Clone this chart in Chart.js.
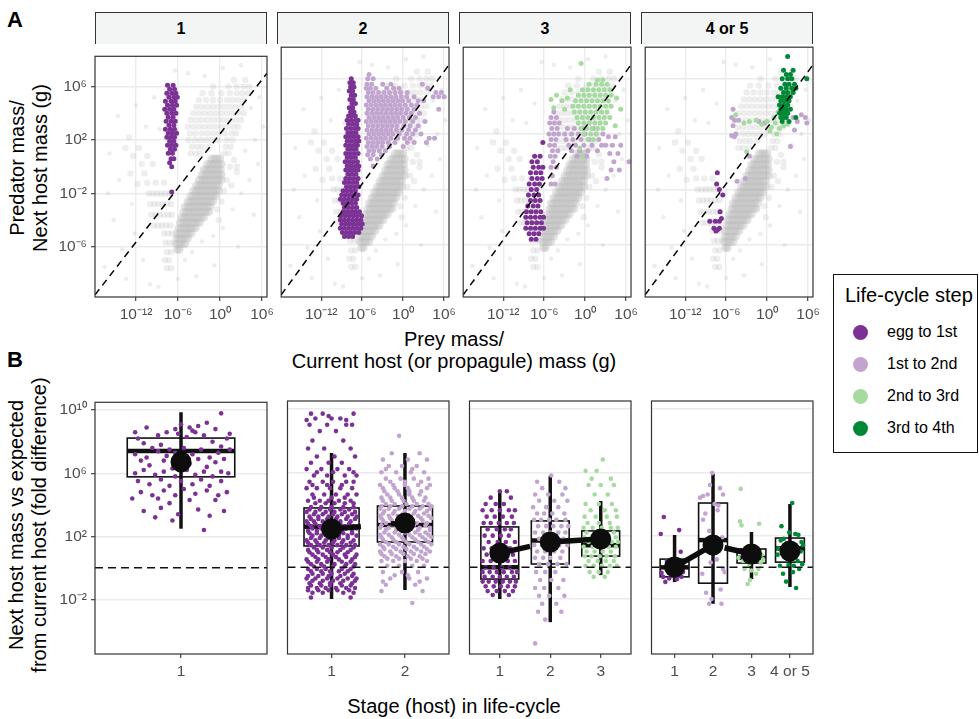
<!DOCTYPE html>
<html>
<head>
<meta charset="utf-8">
<script src="https://cdn.jsdelivr.net/npm/chart.js"></script>
<style>
  body { margin: 0; width: 979px; height: 719px; position: relative; background: #fff; overflow: hidden;
         font-family: 'Liberation Sans', Arial, sans-serif; color: #000; }
  .abs { position: absolute; }
  .strip { position: absolute; box-sizing: border-box; border: 1.2px solid #333; border-bottom: none;
           background: #f3f4f4; font-weight: bold; font-size: 16px; display: flex; align-items: center; justify-content: center; }
  .rot { position: absolute; text-align: center; transform: rotate(-90deg); transform-origin: 50% 50%; font-size: 20px; line-height: 23px; white-space: nowrap; }
  .xt { position: absolute; text-align: center; font-size: 20px; line-height: 22px; white-space: nowrap; }
  .tag { position: absolute; font-weight: bold; font-size: 22px; line-height: 22px; }
  #legend { position: absolute; left: 833px; top: 274px; width: 145px; height: 179px; box-sizing: border-box; border: 1.3px solid #111; }
  #legend .ttl { position: absolute; left: 11px; top: 9px; font-size: 20px; line-height: 23px; white-space: nowrap; }
  #legend .dot { position: absolute; width: 15px; height: 15px; border-radius: 50%; }
  #legend .lab { position: absolute; left: 53px; font-size: 16px; line-height: 18px; white-space: nowrap; }
</style>
</head>
<body>

<div class="tag" style="left:7px; top:9px;">A</div>
<div class="tag" style="left:7px; top:349px;">B</div>

<div class="rot" style="left:-101px; top:145px; width:260px; height:46px;">Predator mass/<br>Next host mass (g)</div>
<div class="rot" style="left:-142px; top:502px; width:340px; height:46px;">Next host mass vs expected<br>from current host (fold difference)</div>

<div class="xt" style="left:254px; top:328px; width:400px;">Prey mass/<br>Current host (or propagule) mass (g)</div>
<div class="xt" style="left:254px; top:695px; width:400px;">Stage (host) in life-cycle</div>

<div id="legend"><div class="ttl">Life-cycle step</div></div>

<script>
// ---------- data ----------
const facetLabels = ['1', '2', '3', '4 or 5'];
const stepNames = ['egg to 1st', '1st to 2nd', '2nd to 3rd', '3rd to 4th'];
const stepColors = ['#7b3294', '#c2a5cf', '#a6dba0', '#008837'];

// log10 axis ticks
const preyTicks = [-12, -6, 0, 6];
const predTicks = [-6, -2, 2, 6];
const foldTicks = [-2, 2, 6, 10];
const preyRange = [-17.86, 6.71];
const predRange = [-9.76, 8.27];
const foldRange = [-5.47, 10.5];

// dashed reference line in the top panels (log10 prey, log10 predator)
const refLine = [[-17.86, -9.6], [6.71, 7.0]];

// all predator-prey pairs (grey), rows: [log10 predator, log10 prey ...]
const greyCore = [
  [-6.2, -6.1, -5.8],
  [-5.8, -6.2, -5.8, -5.4, -5.0],
  [-5.4, -6.2, -5.8, -5.4, -5.0, -4.6],
  [-5.0, -6.1, -5.7, -5.3, -4.9, -4.5, -4.1],
  [-4.6, -5.9, -5.5, -5.1, -4.7, -4.3, -3.9, -3.5],
  [-4.2, -5.7, -5.3, -4.9, -4.5, -4.1, -3.7, -3.3, -2.9],
  [-3.8, -5.5, -5.1, -4.7, -4.3, -3.9, -3.5, -3.1, -2.7, -2.3],
  [-3.4, -5.2, -4.8, -4.4, -4.0, -3.6, -3.2, -2.8, -2.4, -2.0, -1.6],
  [-3.0, -5.0, -4.6, -4.2, -3.8, -3.4, -3.0, -2.6, -2.2, -1.8, -1.4],
  [-2.6, -4.6, -4.2, -3.8, -3.4, -3.0, -2.6, -2.2, -1.8, -1.4, -1.0],
  [-2.2, -4.2, -3.8, -3.4, -3.0, -2.6, -2.2, -1.8, -1.4, -1.0, -0.6],
  [-1.8, -3.8, -3.4, -3.0, -2.6, -2.2, -1.8, -1.4, -1.0, -0.6, -0.2],
  [-1.4, -3.4, -3.0, -2.6, -2.2, -1.8, -1.4, -1.0, -0.6, -0.2],
  [-1.0, -3.0, -2.6, -2.2, -1.8, -1.4, -1.0, -0.6, -0.2, 0.2],
  [-0.6, -2.6, -2.2, -1.8, -1.4, -1.0, -0.6, -0.2, 0.2],
  [-0.2, -2.3, -1.9, -1.5, -1.1, -0.7, -0.3, 0.1],
  [0.2, -1.8, -1.4, -1.0, -0.6, -0.2, 0.2],
  [0.6, -1.2, -0.8, -0.4, 0.0]
];
const greyHalo = [
  [6.5, 2.0, 3.6],
  [6.0, -1.0, 1.2, 2.4, 3.4, 4.2],
  [5.5, -2.5, -1.2, 0.2, 1.4, 2.4, 3.2, 4.0],
  [5.0, -3.0, -2.0, -1.0, 0.0, 1.0, 1.8, 2.6, 3.5],
  [4.5, -3.4, -2.6, -1.8, -1.0, -0.2, 0.6, 1.4, 2.2, 3.0],
  [4.0, -3.8, -3.0, -2.2, -1.4, -0.6, 0.2, 1.0, 1.8, 2.6, 3.4],
  [3.5, -4.2, -3.4, -2.6, -1.8, -1.0, -0.2, 0.6, 1.4, 2.2, 3.0],
  [3.0, -4.6, -3.8, -3.0, -2.2, -1.4, -0.6, 0.2, 1.0, 1.9, 2.6],
  [2.5, -4.3, -3.5, -2.6, -1.8, -1.0, -0.2, 0.6, 1.6, 2.3],
  [2.0, -4.5, -3.6, -2.8, -2.0, -1.2, -0.4, 1.0, 1.8],
  [1.5, -4.0, -3.2, -2.5, -1.5, 0.8, 1.5],
  [1.0, -4.2, -3.5, -2.8, 0.6, 1.2],
  [0.5, 2.0], [0.0, 1.4, 2.4], [-0.4, 2.4], [-1.0, 1.0], [-1.4, 1.6], [-1.8, 0.6],
  [-2.6, 0.2], [-3.2, -0.4], [-4.0, -0.2],
  [-1.2, -10.4, -9.2, -8.0],
  [-2.0, -10.2, -9.6, -9.0, -8.4, -7.8, -7.2],
  [-2.8, -10.0, -9.4, -8.8, -8.2, -7.6, -7.0],
  [-3.6, -9.8, -9.2, -8.6, -8.0, -7.4, -6.9],
  [-4.4, -9.5, -8.9, -8.3, -7.7, -7.1],
  [-5.0, -8.0, -7.4, -6.8],
  [-5.7, -7.8, -7.2, -6.6],
  [-6.4, -7.6, -7.0],
  [-7.0, -7.9, -7.3],
  [-7.6, -7.6, -7.0],
  [2.2, -13.0], [1.4, -13.5, -11.6], [0.8, -12.4, -10.4], [0.2, -11.2, -9.6], [-0.5, -12.8, -10.8], [-1.3, -11.8]
];
const greySparse = [
  [-16.5, -7.5], [-15.2, -4.0], [-14.0, -6.2], [-13.4, -8.4], [-12.2, -5.0], [-11.0, -7.0], [-15.8, 1.0],
  [-14.6, 3.8], [-12.0, 4.6], [-10.6, 3.0], [-9.4, 5.2], [-8.6, 2.8], [-16.0, -2.0], [-10.0, -8.8],
  [-8.8, -9.0], [-6.0, -8.4], [-5.0, -7.0], [-4.0, -6.4], [-2.6, -5.6], [-1.0, -5.2], [0.4, -4.6],
  [1.8, -3.2], [3.0, -2.0], [4.2, -1.0], [5.4, 0.2], [3.6, 1.2], [5.0, 2.0], [4.4, 4.4], [5.6, 5.2],
  [6.2, 3.0], [4.8, -3.6], [2.6, -6.0], [-0.8, -7.4], [-3.4, -8.2], [-6.4, 7.2], [-4.6, 7.0],
  [-2.2, 6.8], [0.4, 7.4], [3.0, 7.6], [-7.4, 4.2], [-12.6, -2.8], [-14.4, -1.0]
];

// highlighted steps per facet (rows: [log10 predator, log10 prey ...])
const top1Egg = [
  [6.1, -7.5, -6.7], [5.8, -7.2, -6.5], [5.5, -7.6, -6.9, -6.3], [5.2, -7.3, -6.6, -6.1],
  [4.9, -7.8, -7.0, -6.4], [4.6, -7.5, -6.8, -6.2], [4.3, -7.9, -7.2, -6.6], [4.0, -7.6, -6.9, -6.3],
  [3.7, -7.4, -6.7], [3.4, -7.7, -7.0, -6.4], [3.1, -7.3, -6.6], [2.8, -7.8, -7.1, -6.5],
  [2.5, -7.4, -6.8, -6.2], [2.2, -7.6, -7.0, -6.5], [1.9, -7.2, -6.6], [1.6, -7.5, -6.9, -6.3],
  [1.3, -7.1, -6.5], [1.0, -7.4, -6.8], [0.6, -7.0, -6.6], [0.3, -7.2], [0.0, -6.9], [-1.9, -6.9]
];
const top2Egg = [
  [6.0, -7.6], [5.7, -7.8, -7.3], [5.4, -7.7, -7.2], [5.1, -7.9, -7.4], [4.8, -7.6, -7.1],
  [4.5, -7.8, -7.3], [4.2, -7.5, -7.0], [3.9, -7.9, -7.4], [3.6, -7.7, -7.2], [3.3, -8.0, -7.5, -7.0],
  [3.0, -8.2, -7.6, -7.0, -6.6], [2.7, -8.0, -7.4, -6.8], [2.4, -8.3, -7.7, -7.1, -6.6],
  [2.1, -8.1, -7.5, -6.9], [1.8, -8.4, -7.8, -7.2, -6.6], [1.5, -8.2, -7.6, -7.0, -6.5],
  [1.2, -8.4, -7.8, -7.2, -6.7], [0.9, -8.1, -7.5, -6.9], [0.6, -8.4, -7.8, -7.2, -6.6],
  [0.3, -8.2, -7.6, -7.0], [0.0, -8.5, -7.9, -7.3, -6.7], [-0.3, -8.2, -7.6, -7.0, -6.5],
  [-0.6, -8.4, -7.8, -7.2, -6.6], [-0.9, -8.1, -7.5, -6.9], [-1.2, -8.4, -7.8, -7.2, -6.6],
  [-1.5, -8.6, -8.0, -7.4, -6.8], [-1.8, -8.3, -7.7, -7.1, -6.5], [-2.1, -8.8, -8.2, -7.6, -7.0],
  [-2.4, -9.0, -8.4, -7.8, -7.2, -6.6], [-2.7, -9.2, -8.6, -8.0, -7.4, -6.8],
  [-3.0, -8.8, -8.2, -7.6, -7.0], [-3.3, -8.6, -8.0, -7.4, -6.8],
  [-3.6, -8.8, -8.2, -7.6, -7.0, -6.4], [-3.9, -9.1, -8.5, -7.9, -7.3, -6.7, -6.1],
  [-4.2, -9.2, -8.6, -8.0, -7.4, -6.8, -6.2], [-4.5, -9.0, -8.4, -7.8, -7.2, -6.6, -6.0],
  [-4.8, -9.2, -8.6, -8.0, -7.4, -6.8, -6.2], [-5.1, -8.9, -8.3, -7.7, -7.1, -6.5], [-5.4, -8.6, -8.0, -7.4]
];
const top2First = [
  [6.3, -5.0], [6.0, -5.2, -4.4], [5.6, -5.3, -4.6, -3.0, -1.8, 2.8],
  [5.3, -5.4, -4.8, -4.0, -2.4, -1.4, -0.6, 3.6],
  [5.0, -5.1, -4.4, -3.6, -2.8, -2.0, -1.2, -0.4, 0.6, 4.8, 5.6],
  [4.7, -5.3, -4.6, -3.9, -3.2, -2.5, -1.8, -1.1, -0.3, 0.5, 1.6, 4.4, 5.2, 6.0],
  [4.4, -5.0, -4.3, -3.6, -2.9, -2.2, -1.5, -0.8, -0.1, 0.8, 2.2, 3.0],
  [4.1, -5.4, -4.7, -4.0, -3.3, -2.6, -1.9, -1.2, -0.5, 0.3, 1.2, 2.0],
  [3.8, -5.1, -4.4, -3.7, -3.0, -2.3, -1.6, -0.9, -0.2, 0.6, 1.6, 5.2],
  [3.5, -5.3, -4.6, -3.9, -3.2, -2.5, -1.8, -1.1, -0.4, 0.4, 1.2, 2.4],
  [3.2, -5.0, -4.3, -3.6, -2.9, -2.2, -1.5, -0.8, 0.0, 0.9, 1.8],
  [2.9, -5.4, -4.7, -4.0, -3.3, -2.6, -1.9, -1.2, -0.5, 0.3, 1.4, 3.2],
  [2.6, -5.1, -4.4, -3.7, -3.0, -2.3, -1.6, -0.9, 0.1, 1.0, 2.2],
  [2.3, -5.3, -4.6, -3.9, -3.2, -2.5, -1.8, -1.0, -0.2, 0.8, 1.8],
  [2.0, -5.0, -4.3, -3.6, -2.9, -2.2, -1.5, -0.6, 0.5, 1.4, 2.6],
  [1.7, -5.4, -4.7, -4.0, -3.3, -2.6, -1.8, -0.8, 0.2, 1.0, 3.8, 4.6],
  [1.4, -5.1, -4.4, -3.7, -3.0, -2.2, -1.2, 0.6, 1.6, 3.4],
  [1.1, -5.3, -4.6, -3.9, -3.1, -2.0, 0.0], [0.8, -5.0, -4.3, -3.5, -2.6],
  [0.5, -5.2, -4.4, -3.2], [0.2, -4.8, -3.8], [-0.3, -4.4]
];
const top3Egg = [
  [1.4, -6.2], [0.4, -7.4, -6.6], [0.0, -7.8, -7.0], [-0.4, -7.6, -6.8, -6.2], [-0.8, -8.0, -7.2, -6.5],
  [-1.2, -7.8, -7.0, -6.3], [-1.6, -8.2, -7.4, -6.7], [-2.0, -7.9, -7.1], [-2.4, -8.3, -7.5, -6.8],
  [-2.8, -8.0, -7.3, -6.6], [-3.2, -8.4, -7.6, -6.9], [-3.6, -8.6, -7.9, -7.2, -6.5],
  [-4.0, -8.7, -8.0, -7.3, -6.6, -6.1], [-4.4, -8.5, -7.8, -7.1, -6.4],
  [-4.8, -8.7, -8.0, -7.3, -6.6, -6.1], [-5.2, -8.2, -7.5, -6.8], [-5.6, -7.9, -7.2]
];
const top3First = [
  [3.6, -4.6], [3.2, -5.0, -4.2], [2.8, -5.2, -4.5, -3.8], [2.4, -4.9, -4.1, -2.6, -1.6, -0.4, 1.2],
  [2.0, -5.3, -4.6, -3.9, -3.0, -2.0, -1.0, 0.0, 1.6, 2.6], [1.6, -5.0, -4.3, -2.8, -1.8, -0.6, 0.6, 2.0],
  [1.2, -5.2, -4.5, -2.4, -1.4, -0.2, 1.0, 2.4, 3.0, 4.0, 5.2], [0.8, -4.8, -4.0, -2.0, -0.8, 0.4, 1.8],
  [0.4, -5.1, -4.4, -1.2, 0.2], [0.0, -4.7, 4.2, 6.4], [-0.4, -5.0, -4.2], [-0.6, 3.8, 5.0],
  [-1.0, -4.8], [-1.2, 3.2], [-1.6, -5.0, -4.4], [1.8, 3.4, 4.4], [0.6, 3.6, 4.8]
];
const top3Second = [
  [7.1, -0.6], [5.9, 1.8, 2.6], [5.6, 0.6, 1.6, 2.4, 3.2], [5.2, -0.4, 0.4, 1.2, 2.0, 2.8, 3.6],
  [4.8, -1.0, -0.2, 0.6, 1.4, 2.2, 3.0, 3.8], [4.4, -1.4, -0.6, 0.2, 1.0, 1.8, 2.6, 3.4],
  [4.0, -1.8, -1.0, -0.2, 0.6, 1.4, 2.2, 3.0, 3.8], [3.6, -1.6, -0.8, 0.0, 0.8, 1.6, 2.4, 3.2],
  [3.2, -1.2, -0.4, 0.4, 1.2, 2.0, 2.8, 3.6], [2.8, -1.0, -0.2, 0.6, 1.4, 2.2, 3.0],
  [2.4, -0.6, 0.2, 1.0, 1.8, 2.6], [2.0, -0.2, 0.8, 1.6], [1.6, 0.4, 1.2], [1.0, -0.8], [0.4, -0.4],
  [4.5, -5.0], [4.8, -4.2], [4.4, -3.4], [4.6, -2.6], [5.2, -2.2], [3.8, -3.0], [3.9, -4.6],
  [4.6, 4.6], [3.8, 5.2], [2.6, 4.4]
];
const top4Egg = [
  [-0.8, -7.3], [-1.6, -7.4], [-2.0, -7.0], [-2.4, -6.5], [-3.6, -6.9], [-4.3, -8.4, -7.6, -7.0],
  [-4.8, -7.8, -7.0], [-4.9, -7.3], [-5.0, -7.5], [-4.1, -6.7]
];
const top4First = [
  [3.8, -5.0], [3.2, -5.2], [3.0, -4.8, -4.2], [2.6, -5.0], [2.0, -4.6], [1.9, -5.2], [1.8, -4.8],
  [-1.4, -4.4], [-1.2, -3.2], [2.9, -1.2, 4.4], [2.8, -0.4, 5.8], [0.4, -2.6],
  [3.2, 3.8, 5.6], [3.4, 5.0], [2.3, 4.0], [1.1, 3.4]
];
const top4Second = [
  [3.4, -4.6], [2.8, -3.4], [2.9, -2.6, 0.0], [3.0, -1.6], [2.7, -0.8, 3.0], [2.5, 0.6], [2.8, 1.2],
  [2.4, 1.8], [2.6, 2.4], [3.2, 1.0], [3.6, 1.6], [3.8, 2.2], [2.2, 0.4], [3.3, 2.8], [2.0, 1.4],
  [0.7, -3.0], [4.2, 2.6], [4.6, 2.0], [5.0, 3.4]
];
const top4Third = [
  [7.6, 3.0], [6.6, 2.4, 3.8], [6.3, 2.8, 3.4], [6.0, 2.2, 3.0, 3.6, 5.8], [5.6, 2.6, 3.2, 4.0],
  [5.3, 2.0, 2.8, 3.6, 4.2], [5.0, 2.4, 3.0, 3.8], [4.7, 1.6, 2.2, 2.8, 3.4], [4.4, 2.0, 2.6, 3.2],
  [4.1, 1.8, 2.4, 3.0], [3.8, 2.0, 2.4, 2.8, 3.4], [3.5, 1.8, 2.2, 2.6, 3.0],
  [3.2, 2.0, 2.4, 2.8, 4.2], [2.9, 2.2, 3.2]
];

// bottom panels: jittered fold differences, rows [log10 fold, stage position ...]
const bot1c1 = [
  [9.8, 1.28], [9.2, 1.18], [9.1, 1.00], [9.0, 1.12], [8.9, 0.76, 1.06], [8.8, 0.96, 1.24],
  [8.7, 1.08], [8.6, 0.68, 0.90, 1.10], [8.5, 0.98, 1.34], [8.4, 0.84, 1.16], [8.3, 1.04],
  [8.2, 0.70, 1.32], [8.0, 1.22], [7.9, 0.74], [7.8, 0.86], [7.7, 1.28], [7.6, 0.80, 1.02],
  [7.5, 0.92, 1.14, 1.34], [7.4, 0.84], [7.3, 0.96, 1.26], [7.2, 0.68, 1.08], [7.1, 0.90],
  [7.0, 0.76, 1.20], [6.9, 1.00, 1.12, 1.30], [6.8, 0.72, 0.88], [6.7, 1.24], [6.6, 1.06],
  [6.5, 0.78], [6.4, 1.18], [6.3, 0.94], [6.2, 0.74, 1.04], [6.1, 0.88, 1.16, 1.28],
  [6.0, 0.68, 1.33], [5.9, 0.82, 1.10], [5.8, 0.96, 1.22], [5.6, 0.86, 1.14], [5.5, 0.70, 1.00, 1.28],
  [5.3, 0.78, 1.08], [5.2, 0.92, 1.20], [5.0, 1.02], [4.9, 0.88, 1.18], [4.8, 0.72, 1.32],
  [4.7, 1.10], [4.6, 0.80, 0.96, 1.26], [4.4, 0.66, 0.84], [4.3, 1.06, 1.24], [4.1, 0.92],
  [3.8, 0.86], [3.7, 1.12], [3.6, 0.74, 1.30], [3.4, 0.98], [3.3, 1.20], [3.2, 0.82], [3.0, 0.94],
  [2.4, 1.16]
];
const bot2c1 = [
  [9.7, 0.72, 0.88, 1.30], [9.55, 0.96], [9.4, 0.78, 1.00, 1.12], [9.3, 0.66, 1.20],
  [9.0, 0.70, 0.94, 1.20, 1.28], [8.6, 0.84, 1.06],
  [8.0, 0.74, 1.16], [7.5, 0.68, 0.90, 1.26], [7.0, 0.80, 1.04, 1.32], [6.6, 0.72, 0.96, 1.14],
  [6.2, 0.66, 0.86, 1.08, 1.24], [6.0, 0.80, 1.02, 1.30], [5.8, 0.76, 0.94, 1.18, 1.34],
  [5.4, 0.70, 0.88, 1.02, 1.20, 1.30], [5.2, 0.74, 0.94, 1.14],
  [5.0, 0.66, 0.80, 0.98, 1.12, 1.28], [4.6, 0.74, 0.90, 1.06, 1.22, 1.34], [4.4, 0.76, 1.00, 1.18],
  [4.2, 0.68, 0.84, 0.96, 1.10, 1.26], [4.05, 0.78, 0.92, 1.04, 1.18, 1.30],
  [3.8, 0.72, 0.86, 1.00, 1.16, 1.30], [3.65, 0.70, 0.84, 0.98, 1.12, 1.24],
  [3.5, 0.66, 0.78, 0.92, 1.04, 1.18, 1.32], [3.35, 0.76, 0.88, 1.02, 1.14, 1.28],
  [3.2, 0.70, 0.82, 0.96, 1.08, 1.22, 1.34], [3.05, 0.72, 0.82, 0.94, 1.06, 1.20, 1.32],
  [2.9, 0.66, 0.76, 0.88, 1.00, 1.12, 1.26], [2.75, 0.68, 0.78, 0.90, 1.00, 1.12, 1.24],
  [2.6, 0.72, 0.84, 0.94, 1.06, 1.18, 1.30], [2.45, 0.74, 0.86, 0.96, 1.08, 1.20, 1.34],
  [2.3, 0.68, 0.80, 0.90, 1.02, 1.14, 1.28], [2.15, 0.70, 0.80, 0.92, 1.04, 1.16, 1.28],
  [2.0, 0.74, 0.86, 0.98, 1.10, 1.22, 1.34], [1.85, 0.72, 0.84, 0.96, 1.10, 1.22],
  [1.7, 0.66, 0.78, 0.92, 1.04, 1.16, 1.30], [1.55, 0.68, 0.80, 0.90, 1.02, 1.14, 1.26],
  [1.4, 0.72, 0.84, 0.96, 1.08, 1.20, 1.32], [1.25, 0.76, 0.88, 1.00, 1.16, 1.30],
  [1.1, 0.68, 0.80, 0.94, 1.12, 1.26], [0.95, 0.70, 0.82, 0.98, 1.08, 1.22],
  [0.8, 0.74, 0.88, 1.02, 1.18, 1.34], [0.65, 0.78, 0.92, 1.06, 1.20, 1.32],
  [0.5, 0.66, 0.82, 0.96, 1.10, 1.28], [0.35, 0.68, 0.80, 0.94, 1.14, 1.26],
  [0.2, 0.72, 0.86, 1.04, 1.20, 1.32], [0.05, 0.76, 0.90, 1.02, 1.18, 1.30],
  [-0.1, 0.68, 0.80, 0.92, 1.14, 1.26], [-0.25, 0.72, 0.86, 0.98, 1.10, 1.22],
  [-0.4, 0.74, 0.88, 1.00, 1.18, 1.30], [-0.55, 0.68, 0.82, 0.96, 1.12, 1.28],
  [-0.7, 0.66, 0.78, 0.94, 1.08, 1.22, 1.34], [-0.85, 0.74, 0.88, 1.02, 1.16, 1.32],
  [-1.0, 0.70, 0.84, 0.98, 1.12, 1.28], [-1.15, 0.72, 0.86, 0.98, 1.14, 1.26],
  [-1.3, 0.68, 0.80, 0.92, 1.06, 1.20, 1.32], [-1.45, 0.68, 0.82, 0.96, 1.08, 1.24],
  [-1.6, 0.74, 0.88, 1.16, 1.30], [-1.9, 0.72, 1.26]
];
const bot2c2 = [
  [8.3, 1.92], [7.2, 1.82, 2.20], [6.8, 1.70, 2.04, 2.30], [6.4, 1.78, 1.96, 2.16], [6.2, 1.74, 2.10],
  [6.0, 1.68, 1.88, 2.08, 2.26], [5.6, 1.74, 1.94, 2.12, 2.32], [5.4, 1.80, 2.00, 2.22],
  [5.2, 1.66, 1.84, 2.00, 2.18, 2.34], [5.0, 1.70, 1.86, 2.04, 2.30],
  [4.8, 1.72, 1.90, 2.06, 2.22], [4.6, 1.76, 1.92, 2.06, 2.20],
  [4.4, 1.68, 1.80, 1.96, 2.10, 2.28], [4.2, 1.70, 1.82, 1.98, 2.12, 2.26],
  [4.0, 1.74, 1.86, 2.02, 2.16, 2.32], [3.85, 1.68, 1.80, 1.96, 2.10, 2.24, 2.36],
  [3.7, 1.66, 1.78, 1.92, 2.06, 2.20, 2.34], [3.55, 1.72, 1.86, 2.00, 2.14, 2.30],
  [3.4, 1.70, 1.84, 1.98, 2.12, 2.26], [3.25, 1.66, 1.78, 1.90, 2.04, 2.18, 2.32],
  [3.1, 1.68, 1.80, 1.94, 2.08, 2.22, 2.36], [2.95, 1.70, 1.82, 1.96, 2.10, 2.24],
  [2.8, 1.74, 1.88, 2.02, 2.16, 2.30], [2.65, 1.68, 1.84, 1.98, 2.12, 2.28],
  [2.5, 1.66, 1.78, 1.92, 2.06, 2.20, 2.34], [2.35, 1.74, 1.88, 2.04, 2.18, 2.34],
  [2.2, 1.72, 1.86, 2.00, 2.14, 2.28], [2.05, 1.66, 1.78, 1.92, 2.06, 2.20, 2.32],
  [1.9, 1.68, 1.82, 1.96, 2.10, 2.24, 2.36], [1.75, 1.70, 1.84, 1.98, 2.14, 2.28],
  [1.6, 1.74, 1.88, 2.02, 2.18, 2.32], [1.45, 1.66, 1.78, 1.92, 2.06, 2.22, 2.36],
  [1.3, 1.70, 1.84, 1.98, 2.12, 2.26], [1.15, 1.72, 1.88, 2.02, 2.16, 2.30],
  [1.0, 1.66, 1.80, 1.94, 2.08, 2.22, 2.34], [0.85, 1.68, 1.82, 1.98, 2.12, 2.28],
  [0.7, 1.72, 1.88, 2.04, 2.20], [0.55, 1.76, 1.92, 2.08, 2.24],
  [0.4, 1.68, 1.84, 2.00, 2.16, 2.30], [0.1, 1.76, 1.92, 2.10, 2.26],
  [-0.3, 1.70, 1.96, 2.18], [-0.5, 1.86, 2.04], [-0.7, 1.80, 2.06, 2.30], [-0.9, 1.70, 2.20],
  [-1.1, 1.74, 2.14], [-1.5, 1.68, 2.24], [-2.25, 2.10]
];
const bot3c1 = [
  [4.8, 1.00, 1.14], [4.4, 0.82, 1.22], [4.0, 0.72, 0.92, 1.08], [3.6, 0.66, 0.84, 1.00, 1.18, 1.30],
  [3.2, 0.74, 0.90, 1.06, 1.24], [2.8, 0.68, 0.82, 0.98, 1.14, 1.28], [2.4, 0.76, 0.94, 1.10, 1.22],
  [2.0, 0.70, 0.86, 1.02, 1.18], [1.6, 0.78, 0.96, 1.12, 1.30], [1.2, 0.68, 0.84, 1.04, 1.20],
  [0.8, 0.74, 0.92, 1.10, 1.26], [0.4, 0.66, 0.82, 0.98, 1.16, 1.30], [0.0, 0.72, 0.88, 1.04, 1.20],
  [-0.3, 0.66, 0.80, 0.94, 1.08, 1.24, 1.34], [-0.6, 0.70, 0.86, 1.00, 1.14, 1.28],
  [-0.9, 0.66, 0.78, 0.92, 1.06, 1.20, 1.32], [-1.2, 0.72, 0.88, 1.02, 1.16, 1.30],
  [-1.5, 0.76, 0.94, 1.10, 1.26], [-1.75, 0.86, 1.18]
];
const bot3c2 = [
  [5.8, 2.02], [5.4, 1.74, 2.18], [5.0, 1.84, 2.30], [4.6, 1.70, 1.96, 2.24], [4.2, 1.78, 2.08, 2.34],
  [3.8, 1.66, 1.92, 2.16], [3.4, 1.74, 1.88, 2.04, 2.28], [3.0, 1.68, 1.82, 1.98, 2.12, 2.30],
  [2.6, 1.76, 1.92, 2.06, 2.22, 2.36], [2.2, 1.70, 1.86, 2.00, 2.16, 2.30], [1.8, 1.78, 1.94, 2.10, 2.26],
  [1.4, 1.68, 1.84, 2.02, 2.18, 2.34], [1.0, 1.74, 1.90, 2.08, 2.24], [0.6, 1.70, 1.86, 2.00, 2.20],
  [0.2, 1.78, 1.96, 2.14, 2.32], [-0.3, 1.72, 1.90, 2.10], [-0.8, 1.80, 2.02, 2.26],
  [-1.3, 1.70, 1.88, 2.16], [-1.8, 1.78, 1.98, 2.28], [-2.3, 1.84, 2.12], [-2.8, 1.76, 2.22],
  [-3.3, 1.90], [-4.8, 1.70]
];
const bot3c3 = [
  [6.8, 3.04], [6.1, 2.70, 2.92], [5.6, 2.82, 3.20], [5.2, 2.76, 3.00, 3.26], [4.6, 2.88, 3.14],
  [4.0, 2.70, 2.96, 3.22], [3.6, 2.80, 3.08, 3.30], [3.2, 2.68, 2.90, 3.12, 3.32],
  [2.8, 2.74, 2.96, 3.18], [2.5, 2.66, 2.84, 3.02, 3.20, 3.34], [2.2, 2.72, 2.90, 3.08, 3.26],
  [1.9, 2.68, 2.82, 2.98, 3.14, 3.30], [1.6, 2.76, 2.92, 3.06, 3.22, 3.34],
  [1.3, 2.66, 2.84, 3.00, 3.16, 3.30], [1.0, 2.72, 2.88, 3.04, 3.20],
  [0.7, 2.68, 2.82, 2.98, 3.12, 3.28], [0.4, 2.76, 2.94, 3.10, 3.26],
  [0.1, 2.70, 2.86, 3.02, 3.18, 3.32], [-0.3, 2.78, 2.96, 3.14], [-0.6, 2.86, 3.08]
];
const bot4c1 = [
  [3.18, 0.72], [2.35, 1.12], [2.1, 0.64], [0.98, 1.16], [0.4, 0.80], [0.1, 1.02], [-0.2, 0.92],
  [-0.3, 1.22], [-0.35, 0.66], [-0.45, 1.14], [-0.5, 0.98], [-0.6, 0.70, 1.18], [-0.7, 0.86],
  [-0.75, 1.06], [-0.92, 0.76]
];
const bot4c2 = [
  [5.95, 1.98], [5.2, 1.92], [5.0, 2.18], [4.6, 2.26, 1.86], [4.5, 1.74], [4.4, 1.66], [4.0, 2.04],
  [3.9, 2.14], [3.6, 2.12], [3.4, 1.80], [3.0, 1.74], [2.3, 1.90], [1.9, 2.24], [1.6, 2.02],
  [1.3, 1.84], [0.5, 2.10], [0.3, 1.94], [-0.1, 2.26], [-0.3, 2.30], [-0.4, 1.72], [-1.4, 2.20],
  [-1.6, 1.82], [-2.0, 1.96], [-2.3, 1.90, 2.22]
];
const bot4c3 = [
  [4.95, 2.72], [2.9, 2.70], [2.75, 3.20], [2.65, 2.74], [1.3, 2.88], [1.0, 3.05], [0.8, 3.26],
  [0.7, 3.10], [0.6, 2.66], [0.5, 3.30], [0.4, 2.78], [0.3, 3.24], [0.2, 2.94], [-0.1, 2.82, 3.18],
  [-0.2, 3.00], [-0.4, 3.12], [-0.8, 2.96], [-1.05, 2.90]
];
const bot4c4 = [
  [4.06, 4.06], [2.6, 3.78], [2.2, 3.98], [2.1, 4.14], [2.05, 4.22], [1.8, 3.84], [1.7, 3.76],
  [1.6, 4.30], [1.5, 3.92], [1.4, 4.34], [1.3, 4.18], [1.2, 3.70], [1.0, 4.28], [0.9, 4.02],
  [0.8, 3.68], [0.6, 3.88], [0.4, 4.20], [0.2, 4.32], [0.15, 3.96], [0.1, 3.74, 4.10], [-0.1, 4.24],
  [-0.3, 4.08], [-0.4, 3.82], [-0.9, 3.90], [-1.3, 4.16]
];

// box summaries: [stage, whisker low, q1, median, q3, whisker high] and means (log10 fold)
const boxes1 = [[1, 2.48, 5.77, 7.41, 8.23, 9.87]];
const boxes2 = [[1, -2.0, 1.35, 2.57, 3.75, 7.22], [2, -1.43, 1.6, 2.67, 3.87, 7.22]];
const boxes3 = [[1, -2.0, -0.74, 0.0, 2.55, 4.76], [2, -3.46, 0.21, 1.7, 2.93, 5.77], [3, -0.49, 0.71, 1.4, 2.3, 4.19]];
const boxes4 = [[1, -0.93, -0.6, 0.0, 0.52, 2.04], [2, -2.3, -1.0, 1.72, 4.06, 5.9], [3, -0.74, 0.27, 0.6, 1.16, 2.23], [4, -1.24, 0.33, 1.2, 1.85, 4.0]];
const means1 = [6.72];
const means2 = [2.42, 2.8];
const means3 = [0.9, 1.6, 1.79];
const means4 = [0.02, 1.41, 0.84, 1.03];
// visible pieces of the line joining the means
const links2 = [[[1, 2.42], [1.4, 2.57]], [[1.81, 2.73], [2, 2.8]]];
const links3 = [[[1, 0.9], [1.6, 1.32]], [[2, 1.6], [3, 1.79]]];
const links4 = [[[1, 0.02], [1.89, 1.26]], [[2.3, 1.24], [3, 0.84]]];
const stageLabels = [['1'], ['1', '2'], ['1', '2', '3'], ['1', '2', '3', '4 or 5']];

// ---------- helpers ----------
const SUP = {'-': '\u207B', '0': '\u2070', '1': '\u00B9', '2': '\u00B2', '3': '\u00B3', '4': '\u2074',
             '5': '\u2075', '6': '\u2076', '7': '\u2077', '8': '\u2078', '9': '\u2079'};
const pow10 = v => '10' + String(v).split('').map(c => SUP[c]).join('');

const fromRows = rows => rows.flatMap(r => r.slice(1).map(x => ({x: x, y: r[0]})));
const fromPairs = p => p.map(([x, y]) => ({x, y}));

Chart.defaults.font.family = "'Liberation Sans', Arial, sans-serif";
Chart.defaults.color = '#4d4d4d';
Chart.defaults.animation = false;
Chart.defaults.events = [];
Chart.defaults.plugins.legend.display = false;
Chart.defaults.plugins.tooltip.enabled = false;

const frame = {
  id: 'frame',
  beforeDatasetsDraw(chart, args, o) {
    const {ctx, scales: {x, y}} = chart;
    (o.boxes || []).forEach(([cx, lo, q1, med, q3, hi]) => {
      const l = x.getPixelForValue(cx - 0.375), r = x.getPixelForValue(cx + 0.375);
      const t = y.getPixelForValue(q3), b = y.getPixelForValue(q1);
      const px = x.getPixelForValue(cx);
      ctx.save();
      ctx.fillStyle = '#fff';
      ctx.fillRect(l, t, r - l, b - t);
      ctx.strokeStyle = '#111';
      ctx.lineWidth = 1.6;
      ctx.strokeRect(l, t, r - l, b - t);
      ctx.lineWidth = 4.5;
      ctx.beginPath();
      ctx.moveTo(l, y.getPixelForValue(med)); ctx.lineTo(r, y.getPixelForValue(med));
      ctx.stroke();
      ctx.lineWidth = 3.5;
      ctx.beginPath();
      ctx.moveTo(px, y.getPixelForValue(lo)); ctx.lineTo(px, y.getPixelForValue(hi));
      ctx.stroke();
      ctx.restore();
    });
  },
  afterDatasetsDraw(chart) {
    const {ctx, chartArea: a} = chart;
    ctx.save();
    ctx.strokeStyle = '#333';
    ctx.lineWidth = 1.2;
    ctx.strokeRect(a.left, a.top, a.right - a.left, a.bottom - a.top);
    ctx.restore();
  }
};

function axis(range, ticks, fmt, showLabels, size, isX, gridColor) {
  return {
    type: 'linear', min: range[0], max: range[1],
    position: isX ? 'bottom' : 'left',
    afterBuildTicks: s => { s.ticks = ticks.map(v => ({value: v})); },
    afterFit: s => { if (isX) s.height = size; else s.width = size; },
    ticks: {display: showLabels, callback: fmt, font: {size: 15.5}, color: '#4d4d4d',
            padding: 4, maxRotation: 0, autoSkip: false},
    grid: {color: gridColor, lineWidth: 1.4, drawTicks: showLabels, tickLength: 4,
           tickColor: '#333', tickWidth: 1.1},
    border: {display: false}
  };
}

function panel(left, top, w, h, padL, padT, padB, scales, datasets, frameOpts) {
  const holder = document.createElement('div');
  holder.className = 'abs';
  holder.style.left = (left - padL) + 'px';
  holder.style.top = (top - padT) + 'px';
  const cv = document.createElement('canvas');
  cv.width = padL + w + 12;
  cv.height = padT + h + padB;
  holder.appendChild(cv);
  document.body.appendChild(holder);
  new Chart(cv, {
    type: 'scatter',
    data: {datasets},
    options: {
      responsive: false,
      layout: {padding: {top: padT, right: 12, left: 0, bottom: 0}},
      scales,
      plugins: {frame: frameOpts || {}}
    },
    plugins: [frame]
  });
}

const dots = (data, color, r, order) => ({data, pointRadius: r, pointBackgroundColor: color,
  pointBorderWidth: 0, order});

// ---------- top row: predator vs prey mass ----------
const panelLefts = [95, 277, 459, 641];
const panelW = 172;
const topSets = [
  [[0, top1Egg]],
  [[0, top2Egg], [1, top2First]],
  [[0, top3Egg], [1, top3First], [2, top3Second]],
  [[0, top4Egg], [1, top4First], [2, top4Second], [3, top4Third]]
];

topSets.forEach((sets, i) => {
  const strip = document.createElement('div');
  strip.className = 'strip';
  strip.style.left = panelLefts[i] + 'px';
  strip.style.top = '12px';
  strip.style.width = panelW + 'px';
  strip.style.height = '32px';
  strip.textContent = facetLabels[i];
  document.body.appendChild(strip);

  const ds = [
    {data: refLine.map(([x, y]) => ({x, y})), showLine: true, borderColor: '#000', borderWidth: 1.5,
     borderDash: [7, 5], pointRadius: 0, order: 0},
    dots(fromPairs(greySparse), 'rgba(190,190,190,0.28)', 2.2, 12),
    dots(fromRows(greyHalo), 'rgba(190,190,190,0.26)', 3.2, 11),
    dots(fromRows(greyCore), 'rgba(188,188,188,0.42)', 4.2, 10)
  ];
  sets.forEach(([step, rows]) => ds.push(dots(fromRows(rows), stepColors[step], 2.5, 5 - step)));

  const first = i === 0;
  panel(panelLefts[i], 43, panelW, 254, first ? 60 : 0, 0, 40, {
    x: axis(preyRange, preyTicks, v => pow10(v), true, 40, true, '#ebebeb'),
    y: axis(predRange, predTicks, v => pow10(v), first, first ? 60 : 0, false, '#ebebeb')
  }, ds);
});

// ---------- bottom row: fold difference by stage ----------
const botPoints = [[bot1c1], [bot2c1, bot2c2], [bot3c1, bot3c2, bot3c3], [bot4c1, bot4c2, bot4c3, bot4c4]];
const botBoxes = [boxes1, boxes2, boxes3, boxes4];
const botMeans = [means1, means2, means3, means4];
const botLinks = [[], links2, links3, links4];

botPoints.forEach((groups, i) => {
  const n = groups.length;
  const ds = [
    dots(botMeans[i].map((m, k) => ({x: k + 1, y: m})), '#0d0d0d', 10.5, 0),
    {data: [{x: 0.4, y: 0}, {x: n + 0.6, y: 0}], showLine: true, borderColor: '#111', borderWidth: 1.5,
     borderDash: [8, 5], pointRadius: 0, order: 2}
  ];
  botLinks[i].forEach(seg => ds.push({data: seg.map(([x, y]) => ({x, y})), showLine: true,
    borderColor: '#0d0d0d', borderWidth: 5.5, pointRadius: 0, order: 1}));
  groups.forEach((rows, k) => ds.push(dots(fromRows(rows), stepColors[k], 2.3, 5)));

  const first = i === 0;
  const ticks = stageLabels[i].map((s, k) => k + 1);
  panel(panelLefts[i], 401, panelW, 253, first ? 60 : 0, 12, 36, {
    x: axis([0.4, n + 0.6], ticks, v => stageLabels[i][v - 1], true, 36, true, 'rgba(0,0,0,0)'),
    y: axis(foldRange, foldTicks, v => pow10(v), first, first ? 60 : 0, false, '#ebebeb')
  }, ds, {boxes: botBoxes[i]});
});

// ---------- legend ----------
const legend = document.getElementById('legend');
stepNames.forEach((name, k) => {
  const cy = [57, 89, 121, 153][k];
  const dot = document.createElement('div');
  dot.className = 'dot';
  dot.style.left = '19px';
  dot.style.top = (cy - 7.5) + 'px';
  dot.style.background = stepColors[k];
  legend.appendChild(dot);
  const lab = document.createElement('div');
  lab.className = 'lab';
  lab.style.top = (cy - 9) + 'px';
  lab.textContent = name;
  legend.appendChild(lab);
});
</script>
</body>
</html>
